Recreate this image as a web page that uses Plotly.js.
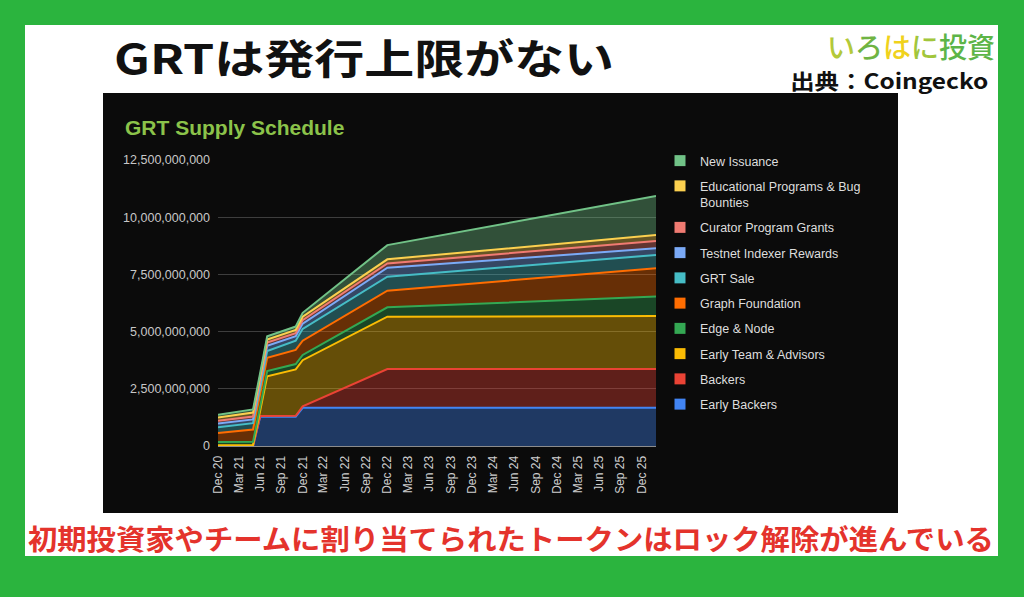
<!DOCTYPE html>
<html>
<head>
<meta charset="utf-8">
<script src="https://cdn.plot.ly/plotly-3.0.1.min.js"></script>
<style>
html,body{margin:0;padding:0;background:#2bb43e;}
#chart{width:1024px;height:597px;}
</style>
</head>
<body>
<div id="chart"></div>
<script>
// ---- data (values in billions of GRT) ----
const dates = ['2020-12-01','2021-05-01','2021-06-01','2021-07-01','2021-11-01','2021-12-01','2022-12-01','2026-02-01'];
const earlyBackers    = [0.00,0.00,1.28,1.28,1.28,1.67,1.67,1.67];
const backers         = [0.00,0.00,0.03,0.03,0.04,0.06,1.69,1.70];
const earlyTeam       = [0.03,0.04,0.24,1.74,2.03,2.02,2.29,2.31];
const edgeNode        = [0.14,0.15,0.19,0.23,0.23,0.23,0.41,0.85];
const graphFoundation = [0.40,0.53,0.55,0.57,0.62,0.62,0.73,1.24];
const grtSale         = [0.25,0.28,0.29,0.30,0.40,0.52,0.61,0.58];
const testnetRewards  = [0.16,0.16,0.19,0.23,0.20,0.23,0.39,0.29];
const curatorGrants   = [0.12,0.13,0.13,0.14,0.13,0.15,0.19,0.32];
const eduPrograms     = [0.14,0.17,0.16,0.13,0.14,0.15,0.18,0.26];
const newIssuance     = [0.12,0.14,0.14,0.15,0.15,0.17,0.62,1.71];

const seriesNames = ['Early Backers','Backers','Early Team & Advisors','Edge & Node','Graph Foundation','GRT Sale','Testnet Indexer Rewards','Curator Program Grants','Educational Programs & Bug<br>Bounties','New Issuance'];
const seriesValues = [earlyBackers,backers,earlyTeam,edgeNode,graphFoundation,grtSale,testnetRewards,curatorGrants,eduPrograms,newIssuance];
const seriesColors = ['#4285f4','#ea4335','#fbbc04','#34a853','#ff6d01','#46bdc6','#7baaf7','#f07b72','#fcd04f','#71c287'];

const tickDates = ['2020-12-01','2021-03-01','2021-06-01','2021-09-01','2021-12-01','2022-03-01','2022-06-01','2022-09-01','2022-12-01','2023-03-01','2023-06-01','2023-09-01','2023-12-01','2024-03-01','2024-06-01','2024-09-01','2024-12-01','2025-03-01','2025-06-01','2025-09-01','2025-12-01'];
const tickLabels = ['Dec 20','Mar 21','Jun 21','Sep 21','Dec 21','Mar 22','Jun 22','Sep 22','Dec 22','Mar 23','Jun 23','Sep 23','Dec 23','Mar 24','Jun 24','Sep 24','Dec 24','Mar 25','Jun 25','Sep 25','Dec 25'];
const yTickVals = [0,2.5e9,5e9,7.5e9,10e9,12.5e9];

const pageTitle = 'GRTは発行上限がない';
const chartTitle = 'GRT Supply Schedule';
const sourceText = '出典：Coingecko';
const caption = '初期投資家やチームに割り当てられたトークンはロック解除が進んでいる';
const logoChars = ['い','ろ','は','に','投','資'];
const logoColors = ['#b3c93a','#6fb443','#f0d21c','#a2c63b','#5db548','#5db548'];

// ---- geometry helpers ----
const W=1024,H=597,PL=218,PR=656,PT=160,PB=446;
const fx = p => (p-PL)/(PR-PL);
const fy = p => (PB-p)/(PB-PT);
const UNIT = 1e9;

function rgba(hex,a){
  const n=parseInt(hex.slice(1),16);
  return 'rgba('+((n>>16)&255)+','+((n>>8)&255)+','+(n&255)+','+a+')';
}

const data = [];
seriesValues.forEach((vals,i)=>{
  data.push({
    type:'scatter', mode:'lines', x:dates, y:vals.map(v=>v*UNIT),
    stackgroup:'one', name:seriesNames[i], showlegend:false,
    line:{color:seriesColors[i], width:2},
    fillcolor:rgba(seriesColors[i],0.38),
    hoverinfo:'skip'
  });
});
// legend entries (square swatches), New Issuance first
for(let i=seriesNames.length-1;i>=0;i--){
  data.push({
    type:'scatter', mode:'markers', x:[null], y:[null],
    name:seriesNames[i], legendgroup:'g'+i, showlegend:true,
    marker:{symbol:'square', size:11, color:seriesColors[i]},
    hoverinfo:'skip'
  });
}

const sans = 'Liberation Sans, Arial, sans-serif';
const jp = 'Noto Sans CJK JP, sans-serif';

const layout = {
  width:W, height:H,
  margin:{l:PL, r:W-PR, t:PT, b:H-PB, pad:0},
  paper_bgcolor:'#2bb43e',
  plot_bgcolor:'rgba(0,0,0,0)',
  showlegend:true,
  xaxis:{
    type:'date', range:['2020-12-01','2026-02-01'],
    tickmode:'array', tickvals:tickDates, ticktext:tickLabels,
    tickangle:-90, tickfont:{size:12, color:'#cfcfcf', family:sans},
    showgrid:false, zeroline:false, showline:true, linecolor:'#8c8c8c', linewidth:1,
    ticks:'', ticklabelstandoff:4, fixedrange:true
  },
  yaxis:{
    range:[0,12.5e9], tickmode:'array', tickvals:yTickVals, tickformat:',.0f',
    gridcolor:'#3e3e3e', gridwidth:1, zeroline:false, showline:false, ticks:'',
    tickfont:{size:12.5, color:'#c8c8c8', family:sans}, ticklabelstandoff:7, fixedrange:true
  },
  legend:{
    xref:'container', yref:'container', x:660/W, y:1-146/H, xanchor:'left', yanchor:'top',
    bgcolor:'rgba(0,0,0,0)', borderwidth:0,
    font:{size:12.5, color:'#dedede', family:sans},
    traceorder:'grouped', tracegroupgap:6, valign:'top', itemclick:false, itemdoubleclick:false
  },
  shapes:[
    {type:'rect', xref:'paper', yref:'paper', layer:'below', x0:fx(25), x1:fx(998), y0:fy(556), y1:fy(25), fillcolor:'#ffffff', line:{width:0}},
    {type:'rect', xref:'paper', yref:'paper', layer:'below', x0:fx(103), x1:fx(898), y0:fy(513), y1:fy(93), fillcolor:'#0b0b0b', line:{width:0}}
  ],
  annotations:[
    {xref:'paper', yref:'paper', x:fx(364), y:fy(56), xanchor:'center', yanchor:'middle', showarrow:false,
     text:pageTitle, font:{family:jp, size:41, color:'#111111', weight:700}},
    {xref:'paper', yref:'paper', x:fx(911), y:fy(46), xanchor:'center', yanchor:'middle', showarrow:false,
     text:logoChars.map((c,i)=>'<span style="color:'+logoColors[i]+'">'+c+'</span>').join(''),
     font:{family:jp, size:28, color:'#5db548', weight:500}},
    {xref:'paper', yref:'paper', x:fx(889), y:fy(80), xanchor:'center', yanchor:'middle', showarrow:false,
     text:sourceText, font:{family:jp, size:21, color:'#111111', weight:700}},
    {xref:'paper', yref:'paper', x:fx(123), y:fy(127), xanchor:'left', yanchor:'middle', showarrow:false,
     text:chartTitle, font:{family:sans, size:21, color:'#8bc34a', weight:700}},
    {xref:'paper', yref:'paper', x:fx(511), y:fy(538), xanchor:'center', yanchor:'middle', showarrow:false,
     text:caption, font:{family:jp, size:28, color:'#e4332c', weight:700}}
  ]
};

Plotly.newPlot('chart', data, layout, {staticPlot:true, displayModeBar:false}).then(gd=>{
  gd.querySelectorAll('.annotation-text').forEach(t=>{
    if(t.textContent===pageTitle){
      t.setAttribute('textLength','500');
      t.setAttribute('lengthAdjust','spacingAndGlyphs');
    }
    if(t.textContent===caption){
      t.setAttribute('textLength','966');
      t.setAttribute('lengthAdjust','spacingAndGlyphs');
    }
    if(t.textContent===sourceText){
      t.setAttribute('textLength','198');
      t.setAttribute('lengthAdjust','spacingAndGlyphs');
    }
  });
});
</script>
</body>
</html>
